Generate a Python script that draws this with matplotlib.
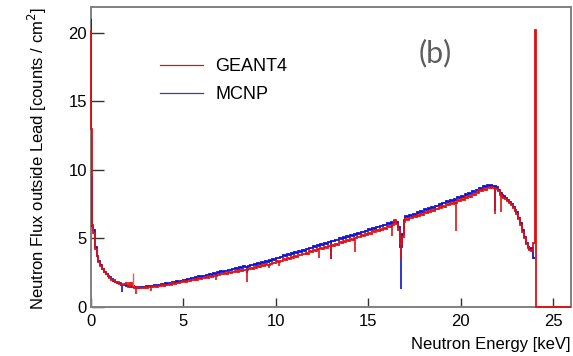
import numpy as np
import matplotlib
matplotlib.use("Agg")
import matplotlib.pyplot as plt
from matplotlib.lines import Line2D

plt.rcParams["font.family"] = ["Liberation Sans", "DejaVu Sans"]

# fine bins at the very low energy end (keV)
low_edges = [0.0, 0.02, 0.04, 0.06, 0.08, 0.10]
geant4_low = [20.2, 13.0, 9.0, 7.2, 6.0]
mcnp_low = [21.0, 9.5, 6.8, 6.3, 5.9]

# 0.1 keV bins from 0.1 to 24.0 keV
geant4 = [
    5.4, 4.25, 3.7, 3.3, 3.02, 2.74, 2.58, 2.4, 2.27,
    2.14, 1.98, 1.95, 1.8, 1.8, 1.68, 1.7, 1.58, 1.66, 1.72,
    1.45, 1.74, 1.5, 1.36, 1.4, 1.44, 1.37, 1.42, 1.36, 1.44,
    1.42, 1.48, 1.47, 1.45, 1.53, 1.49, 1.55, 1.52, 1.59, 1.56,
    1.62, 1.6, 1.67, 1.64, 1.72, 1.69, 1.77, 1.74, 1.82, 1.79,
    1.87, 1.84, 1.92, 1.89, 1.97, 1.94, 2.03, 1.99, 2.08, 2.04,
    2.12, 2.09, 2.17, 2.14, 2.23, 2.19, 2.29, 2.26, 2.34, 2.31,
    2.42, 2.38, 2.47, 2.43, 2.53, 2.49, 2.58, 2.53, 2.63, 2.58,
    2.68, 2.63, 2.73, 2.68, 2.72, 2.74, 2.83, 2.77, 2.9, 2.85,
    2.98, 2.92, 3.06, 3.0, 3.12, 3.05, 3.1, 3.14, 3.24, 3.19,
    3.33, 3.3, 3.39, 3.35, 3.49, 3.43, 3.55, 3.5, 3.64, 3.6,
    3.73, 3.67, 3.82, 3.76, 3.9, 3.85, 3.97, 3.9, 4.05, 3.98,
    4.13, 4.07, 4.22, 4.2, 4.28, 4.24, 4.37, 4.3, 4.45, 4.42,
    4.52, 4.47, 4.6, 4.55, 4.71, 4.65, 4.8, 4.73, 4.88, 4.82,
    4.98, 4.92, 5.0, 5.03, 5.14, 5.08, 5.22, 5.15, 5.32, 5.25,
    5.42, 5.36, 5.52, 5.45, 5.62, 5.55, 5.69, 5.63, 5.76, 5.7,
    5.88, 5.82, 5.9, 5.98, 6.35, 6.05, 5.6, 4.6, 5.1, 6.2,
    6.42, 6.38, 6.52, 6.46, 6.62, 6.56, 6.7, 6.64, 6.8, 6.74,
    6.92, 6.86, 7.0, 6.94, 7.08, 7.03, 7.18, 7.12, 7.28, 7.22,
    7.37, 7.32, 7.48, 7.42, 7.58, 7.52, 7.67, 7.62, 7.78, 7.72,
    7.88, 7.83, 8.0, 7.94, 8.12, 8.06, 8.26, 8.2, 8.4, 8.34,
    8.52, 8.47, 8.62, 8.56, 8.7, 8.66, 8.74, 8.65, 8.7, 8.62,
    8.45, 8.2, 8.02, 7.92, 7.85, 7.72, 7.56, 7.42, 7.22, 7.02,
    6.8, 6.4, 6.0, 5.5, 5.0, 4.6, 4.3, 4.15, 4.12, 4.65,
]
mcnp = [
    5.65, 4.35, 3.72, 3.35, 3.05, 2.8, 2.56, 2.44, 2.28,
    2.16, 2.03, 1.9, 1.86, 1.75, 1.73, 1.64, 1.62, 1.6, 1.53,
    1.52, 1.47, 1.5, 1.44, 1.46, 1.42, 1.47, 1.44, 1.49, 1.46,
    1.52, 1.5, 1.56, 1.53, 1.6, 1.57, 1.63, 1.6, 1.67, 1.64,
    1.72, 1.69, 1.77, 1.74, 1.82, 1.79, 1.87, 1.84, 1.93, 1.9,
    2.0, 1.97, 2.06, 2.03, 2.12, 2.08, 2.17, 2.14, 2.23, 2.2,
    2.29, 2.25, 2.35, 2.31, 2.41, 2.37, 2.47, 2.43, 2.53, 2.49,
    2.6, 2.56, 2.66, 2.62, 2.72, 2.68, 2.78, 2.74, 2.84, 2.8,
    2.9, 2.86, 2.96, 2.92, 2.95, 2.98, 3.08, 3.03, 3.14, 3.09,
    3.2, 3.15, 3.27, 3.22, 3.34, 3.28, 3.42, 3.36, 3.5, 3.44,
    3.6, 3.54, 3.68, 3.62, 3.76, 3.7, 3.84, 3.78, 3.92, 3.86,
    4.02, 3.96, 4.1, 4.04, 4.18, 4.12, 4.26, 4.2, 4.34, 4.28,
    4.44, 4.38, 4.52, 4.46, 4.6, 4.54, 4.68, 4.62, 4.76, 4.72,
    4.84, 4.78, 4.92, 4.86, 5.0, 4.94, 5.08, 5.02, 5.16, 5.1,
    5.26, 5.2, 5.34, 5.28, 5.42, 5.36, 5.5, 5.44, 5.58, 5.52,
    5.7, 5.64, 5.78, 5.72, 5.86, 5.8, 5.94, 5.88, 6.0, 5.95,
    6.1, 6.05, 6.18, 6.12, 6.3, 6.22, 5.8, 4.4, 5.3, 6.38,
    6.62, 6.56, 6.7, 6.64, 6.8, 6.74, 6.9, 6.84, 7.0, 6.94,
    7.14, 7.08, 7.22, 7.16, 7.3, 7.24, 7.4, 7.34, 7.5, 7.44,
    7.62, 7.56, 7.7, 7.64, 7.8, 7.74, 7.9, 7.84, 8.0, 7.95,
    8.12, 8.06, 8.22, 8.16, 8.32, 8.26, 8.44, 8.38, 8.56, 8.5,
    8.7, 8.64, 8.8, 8.74, 8.9, 8.84, 8.92, 8.86, 8.85, 8.78,
    8.5, 8.28, 8.18, 8.08, 7.98, 7.82, 7.66, 7.5, 7.3, 7.1,
    6.9, 6.5, 6.1, 5.6, 5.1, 4.7, 4.4, 4.25, 4.3, 3.55,
]

# narrow absorption dips: energy (keV) and lowest flux reached
geant4_dip_e = [2.45, 3.25, 6.75, 8.45, 9.65, 10.15, 12.35, 12.95, 14.25,
                16.25, 16.75, 19.75, 21.85, 22.15]
geant4_dip_low = [0.95, 1.2, 2.0, 1.8, 2.85, 3.0, 3.6, 3.5, 4.0,
                  5.2, 3.4, 5.55, 6.8, 6.9]
mcnp_dip_e = [1.65, 8.45, 12.95, 16.75, 21.85]
mcnp_dip_low = [1.1, 2.5, 3.5, 1.3, 7.0]

# narrow upward spikes
geant4_spike_e = [2.25, 1.95]
geant4_spike_high = [2.5, 1.8]

# GEANT4 line at the end of the range, then empty bins
geant4_tail_edges = [24.05, 25.95]
geant4_tail = [20.2, 0.0]

main_edges = list(np.round(np.arange(0.1, 24.0 + 1e-9, 0.1), 2))

g4_edges = low_edges + main_edges[1:] + geant4_tail_edges
g4_vals = geant4_low + geant4 + geant4_tail
mc_edges = low_edges + main_edges[1:]
mc_vals = mcnp_low + mcnp


def curve_at(edges, vals, energies):
    idx = np.searchsorted(edges, energies) - 1
    return [vals[i] for i in idx]


red = "#e01010"
blue = "#1010d0"

fig = plt.figure(figsize=(5.73, 3.56), dpi=100)
ax = fig.add_axes([0.1588, 0.1376, 0.8377, 0.8427])

ax.stairs(mc_vals, mc_edges, color=blue, lw=1.3, baseline=None, zorder=3)
ax.vlines(mcnp_dip_e, mcnp_dip_low, curve_at(mc_edges, mc_vals, mcnp_dip_e),
          color=blue, lw=1.2, zorder=3)
ax.stairs(g4_vals, g4_edges, color=red, lw=1.3, baseline=None, zorder=4, clip_on=False)
ax.vlines(geant4_dip_e, geant4_dip_low, curve_at(g4_edges, g4_vals, geant4_dip_e),
          color=red, lw=1.2, zorder=4)
ax.vlines(geant4_spike_e, curve_at(g4_edges, g4_vals, geant4_spike_e), geant4_spike_high,
          color="#e06060", lw=1.0, zorder=4)

ax.set_xlim(0, 25.95)
ax.set_ylim(0, 21.88)
ax.set_xticks([0, 5, 10, 15, 20, 25])
ax.set_yticks([0, 5, 10, 15, 20])

for s in ax.spines.values():
    s.set_color("#808080")
    s.set_linewidth(1.4)

ax.tick_params(axis="both", direction="in", labelsize=12, colors="#333333",
               labelcolor="black", width=1.0)
ax.tick_params(axis="x", length=6.5, pad=5)
ax.tick_params(axis="y", length=9.5, pad=3)

ax.set_xlabel("Neutron Energy [keV]", fontsize=12, ha="right", x=1.0, labelpad=6)
ax.set_ylabel("Neutron Flux outside Lead [counts / cm$^2$]", fontsize=12,
              ha="right", y=1.0, labelpad=14)

handles = [Line2D([], [], color="#cc1a1a", lw=0.9),
           Line2D([], [], color="#3a3ab8", lw=0.9)]
ax.legend(handles, ["GEANT4", "MCNP"], loc="upper left",
          bbox_to_anchor=(0.144, 0.83), frameon=False, fontsize=13,
          handlelength=2.4, handletextpad=0.65, labelspacing=0.6,
          borderpad=0, borderaxespad=0)

ax.text(0.717, 0.847, "(b)", transform=ax.transAxes, fontsize=22,
        color="#5e5e5e", family=["Lato", "DejaVu Sans"],
        ha="center", va="center")

fig.savefig("out.png", dpi=100)
